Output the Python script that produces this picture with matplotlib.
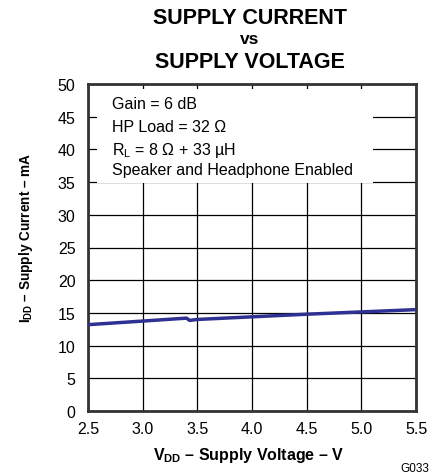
import matplotlib
matplotlib.use("Agg")
import matplotlib.pyplot as plt
from matplotlib.patches import Rectangle

plt.rcParams['font.family'] = ['Liberation Sans', 'DejaVu Sans']
plt.rcParams['mathtext.fontset'] = 'custom'
plt.rcParams['mathtext.rm'] = 'Liberation Sans'
plt.rcParams['mathtext.bf'] = 'Liberation Sans:bold'

vdd = [2.5, 3.0, 3.4, 3.43, 3.5, 4.0, 4.5, 5.0, 5.5]
idd = [13.2, 13.75, 14.2, 13.85, 14.0, 14.4, 14.8, 15.15, 15.5]

xticks = [2.5, 3.0, 3.5, 4.0, 4.5, 5.0, 5.5]
yticks = [0, 5, 10, 15, 20, 25, 30, 35, 40, 45, 50]

fig = plt.figure(figsize=(4.39, 4.77), dpi=100)
top, bot = 85, 412
ax = fig.add_axes([88/439, 1-bot/477, 328/439, (bot-top)/477])
ax.set_xlim(2.5, 5.5)
ax.set_ylim(0, 50)
ax.set_xticks(xticks)
ax.set_xticklabels([f"{v:.1f}" for v in xticks])
ax.set_yticks(yticks)
ax.tick_params(length=0, labelsize=11.5)
ax.tick_params(axis='y', pad=9)
ax.tick_params(axis='x', pad=7)
ax.grid(True, color='black', linewidth=0.9)
ax.set_axisbelow(True)
for s in ax.spines.values():
    s.set_linewidth(2.0)
    s.set_color('#333333')

ax.add_patch(Rectangle((2.58, 34.9), 2.53, 14.3, facecolor='white', edgecolor='none', zorder=1.5))

ax.plot(vdd, idd, color='#2e3192', linewidth=2.5, zorder=3)

txt = ["Gain = 6 dB", "HP Load = 32 Ω", "R$_\\mathregular{L}$ = 8 Ω + 33 µH", "Speaker and Headphone Enabled"]
ys = [105, 128, 151, 171]
for t, y in zip(txt, ys):
    fig.text(112/439, 1-y/477, t, fontsize=11.5, va='center', ha='left')

fig.text(250/439, 1-18/477, "SUPPLY CURRENT", fontsize=15.5, fontweight='bold', ha='center', va='center')
fig.text(250/439, 1-40/477, "vs", fontsize=12.5, fontweight='bold', ha='center', va='center')
fig.text(250/439, 1-62/477, "SUPPLY VOLTAGE", fontsize=15.5, fontweight='bold', ha='center', va='center')

fig.text(249/439, 1-456/477, "V$_\\mathregular{DD}$ – Supply Voltage – V", fontsize=11.5, fontweight='bold', ha='center', va='center')
fig.text(26/439, 1-238/477, "I$_\\mathregular{DD}$ – Supply Current – mA", fontsize=9.8, fontweight='bold', ha='center', va='center', rotation=90)
fig.text(415/439, 1-469/477, "G033", fontsize=8.5, ha='center', va='center')

fig.savefig("out.png", dpi=100)
